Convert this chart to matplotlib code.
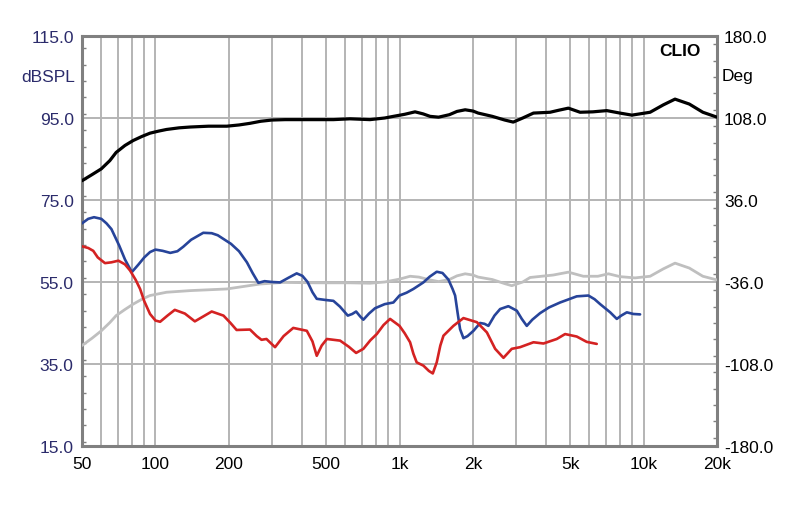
import matplotlib
matplotlib.use("Agg")
import matplotlib.pyplot as plt
from matplotlib.ticker import FixedLocator, MultipleLocator, NullFormatter

plt.rcParams['font.family'] = ['Liberation Sans', 'DejaVu Sans']

# frequency response (black)
black_f = [50, 55, 60, 65, 69, 75, 81, 88, 95, 103, 111, 125, 139, 165, 196, 220, 244,
           270, 300, 340, 420, 536, 627, 757, 870, 944, 1050, 1158, 1250, 1334, 1446,
           1600, 1720, 1858, 2000, 2100, 2400, 2700, 2925, 3200, 3540, 4140, 4500, 4920,
           5494, 6200, 7070, 8000, 8960, 10640, 12050, 13460, 15400, 17500, 20000]
black_db = [79.7, 81.2, 82.6, 84.6, 86.6, 88.3, 89.5, 90.5, 91.3, 91.8, 92.2, 92.6, 92.8,
            93.0, 93.0, 93.3, 93.7, 94.2, 94.5, 94.6, 94.6, 94.6, 94.8, 94.6, 95.0, 95.4,
            95.9, 96.5, 96.0, 95.4, 95.2, 95.8, 96.6, 97.0, 96.7, 96.2, 95.4, 94.5, 94.0,
            95.0, 96.2, 96.4, 96.9, 97.4, 96.4, 96.5, 96.8, 96.2, 95.7, 96.4, 98.2, 99.6,
            98.4, 96.4, 95.2]

# same response at lower level (gray)
gray_f = [50, 55, 60, 65, 69, 75, 81, 88, 95, 111, 139, 196, 268, 334, 450, 627, 757,
          870, 1000, 1105, 1200, 1334, 1446, 1600, 1720, 1858, 2000, 2100, 2400, 2700,
          2884, 3200, 3428, 4266, 4920, 5665, 6500, 7180, 8020, 9230, 10640, 12050,
          13460, 15400, 17500, 20000]
gray_db = [39.5, 41.3, 43.1, 45.1, 46.8, 48.3, 49.6, 50.8, 51.7, 52.5, 52.9, 53.3, 54.5,
           54.9, 54.8, 54.8, 54.7, 55.0, 55.7, 56.4, 56.2, 55.5, 55.1, 55.6, 56.5, 57.0,
           56.7, 56.2, 55.6, 54.6, 54.1, 55.0, 56.1, 56.7, 57.4, 56.4, 56.4, 57.0, 56.3,
           56.0, 56.4, 58.2, 59.6, 58.4, 56.4, 55.5]

# 2nd harmonic (blue)
blue_f = [50, 53, 56, 60, 63, 66, 71, 75, 80, 85, 90, 95, 100, 107, 115, 123, 130, 140,
          157, 170, 180, 204, 220, 237, 250, 264, 280, 300, 324, 350, 379, 400, 420, 440,
          458, 500, 536, 570, 614, 640, 664, 690, 711, 750, 794, 870, 944, 1000, 1070,
          1140, 1253, 1330, 1421, 1500, 1586, 1650, 1690, 1730, 1771, 1828, 1900, 2010,
          2140, 2230, 2314, 2450, 2584, 2793, 3024, 3170, 3323, 3500, 3767, 4100, 4550,
          5000, 5324, 5943, 6300, 6641, 7300, 7770, 8100, 8540, 9090, 9680]
blue_db = [69.3, 70.4, 70.8, 70.4, 69.3, 67.9, 63.9, 60.5, 57.4, 59.2, 61.0, 62.3, 62.9,
           62.6, 62.1, 62.5, 63.6, 65.3, 67.0, 66.9, 66.4, 64.3, 62.5, 59.8, 57.2, 54.8,
           55.2, 55.0, 54.9, 56.0, 57.1, 56.5, 55.0, 52.5, 50.9, 50.6, 50.4, 49.0, 46.8,
           47.2, 47.8, 46.6, 45.8, 47.3, 48.6, 49.6, 50.0, 51.7, 52.4, 53.3, 54.9, 56.3,
           57.5, 57.2, 55.6, 53.3, 51.7, 47.5, 43.5, 41.3, 41.8, 43.1, 45.0, 44.8, 44.3,
           46.8, 48.4, 49.1, 48.0, 46.0, 44.3, 45.8, 47.4, 48.8, 50.0, 50.9, 51.5, 51.7,
           50.8, 49.6, 47.6, 46.0, 46.8, 47.6, 47.2, 47.1]

# 3rd harmonic (red)
red_f = [50, 53, 55.6, 58, 62.1, 66, 70.5, 75, 78.7, 83, 86.5, 90, 95, 100, 104.5, 112,
         120, 132, 145, 157, 170, 190, 203, 215, 244, 260, 272, 285, 309, 335, 367, 417,
         440, 458, 480, 504, 571, 620, 664, 711, 760, 807, 860, 915, 1000, 1050, 1105,
         1140, 1176, 1253, 1320, 1369, 1421, 1470, 1514, 1663, 1828, 2075, 2281, 2466,
         2667, 2884, 3119, 3540, 3890, 4410, 4770, 5324, 5848, 6430]
red_db = [63.7, 63.3, 62.6, 61.0, 59.6, 59.8, 60.2, 59.3, 57.8, 55.5, 53.3, 50.3, 47.2,
          45.6, 45.3, 46.8, 48.2, 47.3, 45.4, 46.6, 47.8, 46.8, 45.0, 43.3, 43.4, 41.8,
          40.9, 41.1, 39.1, 41.8, 43.8, 43.1, 40.5, 37.0, 39.5, 41.1, 40.7, 39.2, 37.7,
          38.7, 40.8, 42.3, 44.5, 46.0, 44.3, 42.5, 40.3, 37.5, 35.4, 34.6, 33.3, 32.7,
          35.4, 39.5, 41.9, 44.3, 46.2, 45.2, 42.7, 38.7, 36.5, 38.7, 39.1, 40.3, 40.0,
          41.1, 42.3, 41.7, 40.4, 39.9]

x_ticks = [50, 100, 200, 500, 1000, 2000, 5000, 10000, 20000]
x_labels = ["50", "100", "200", "500", "1k", "2k", "5k", "10k", "20k"]
db_ticks = [15, 35, 55, 75, 95, 115]
deg_ticks = [-180, -108, -36, 36, 108, 180]

grid_c = "#b4b4b4"
frame_c = "#808080"
navy = "#2b2b6b"
fs = 12.5

fig = plt.figure(figsize=(8, 5.06), dpi=100)
ax = fig.add_axes([0.1025, 0.1166, 0.79375, 0.8103])

ax.set_xscale("log")
ax.set_xlim(50, 20000)
ax.set_ylim(15, 115)

# vertical grid at every 1..9 x decade
grid_x = [m * 10 ** e for e in range(1, 5) for m in range(1, 10)]
grid_x = [g for g in grid_x if 50 <= g <= 20000]
for g in grid_x:
    ax.axvline(g, color=grid_c, lw=1.4, zorder=1)
for d in db_ticks:
    ax.axhline(d, color=grid_c, lw=1.4, zorder=1)

line_kw = dict(solid_joinstyle="round", solid_capstyle="round")
ax.plot(gray_f, gray_db, color="#bfbfbf", lw=2.0, zorder=3, **line_kw)
ax.plot(black_f, black_db, color="black", lw=2.3, zorder=4, **line_kw)
ax.plot(blue_f, blue_db, color="#27449a", lw=1.9, zorder=5, **line_kw)
ax.plot(red_f, red_db, color="#d42222", lw=1.9, zorder=6, **line_kw)

ax.xaxis.set_major_locator(FixedLocator(x_ticks))
ax.xaxis.set_minor_formatter(NullFormatter())
ax.set_xticks(x_ticks)
ax.set_xticklabels(x_labels)
ax.tick_params(axis="x", which="both", length=0, pad=7, labelsize=fs, colors="black")

ax.set_yticks(db_ticks)
ax.set_yticklabels([f"{d:.1f}" for d in db_ticks])
ax.yaxis.set_minor_locator(MultipleLocator(4))
ax.tick_params(axis="y", which="major", length=0, pad=6, labelsize=fs, labelcolor=navy)
ax.tick_params(axis="y", which="minor", direction="in", length=3, width=1, color=frame_c)

for s in ax.spines.values():
    s.set_color(frame_c)
    s.set_linewidth(2.2)

ax2 = ax.twinx()
ax2.set_ylim(-180, 180)
ax2.set_yticks(deg_ticks)
ax2.set_yticklabels([f"{d:.1f}" for d in deg_ticks])
ax2.yaxis.set_minor_locator(MultipleLocator(14.4))
ax2.tick_params(axis="y", which="major", length=0, pad=5, labelsize=fs, labelcolor="black")
ax2.tick_params(axis="y", which="minor", direction="in", length=3, width=1, color=frame_c)
for s in ax2.spines.values():
    s.set_visible(False)

fig.text(75 / 800, 1 - 77 / 506, "dBSPL", ha="right", va="center", fontsize=fs, color=navy)
fig.text(722 / 800, 1 - 77 / 506, "Deg", ha="left", va="center", fontsize=fs, color="black")
fig.text(701 / 800, 1 - 52 / 506, "CLIO", ha="right", va="center", fontsize=fs,
         fontweight="bold", color="black")

fig.savefig("out.png", dpi=100)
